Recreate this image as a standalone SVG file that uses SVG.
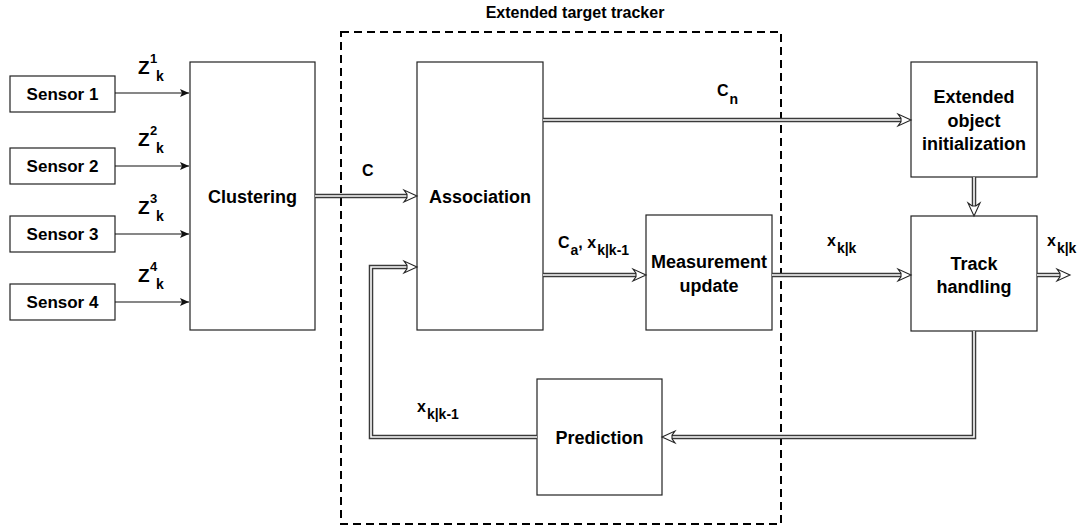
<svg xmlns="http://www.w3.org/2000/svg" width="1089" height="528" viewBox="0 0 1089 528">
<defs>
<style>
.box{fill:#fff;stroke:#222;stroke-width:1.2}
.t{font-family:"Liberation Sans",Arial,sans-serif;font-weight:bold;fill:#000}
.lbl{font-size:18px;text-anchor:middle}
.sen{font-size:17px;text-anchor:middle}
.z{font-size:19px}
.sup{font-size:13px}
.m{font-size:16px}
.sub{font-size:14px}
.dbl-o{fill:none;stroke:#3a3a3a;stroke-width:4.5}
.dbl-i{fill:none;stroke:#fff;stroke-width:1.6}
.thin{fill:none;stroke:#111;stroke-width:1.2}
.head{fill:#fff;stroke:#222;stroke-width:1.1;stroke-linejoin:miter}
</style>
<marker id="a" markerWidth="10" markerHeight="8" refX="9" refY="4" orient="auto" markerUnits="userSpaceOnUse">
<path d="M0,0 L9,4 L0,8 L2,4 Z" fill="#111"/>
</marker>
<polygon id="oh" points="0,0 -13,-6 -10,-1.8 -10,1.8 -13,6"/>
</defs>

<text class="t" x="575" y="18" font-size="16" text-anchor="middle">Extended target tracker</text>
<rect x="341" y="32" width="440" height="492" fill="none" stroke="#000" stroke-width="2" stroke-dasharray="8,5"/>

<g id="sensor1"><rect class="box" x="10" y="76" width="105" height="36"/><text class="t sen" x="62.5" y="100">Sensor 1</text></g>
<g id="sensor2"><rect class="box" x="10" y="148" width="105" height="36"/><text class="t sen" x="62.5" y="172">Sensor 2</text></g>
<g id="sensor3"><rect class="box" x="10" y="216" width="105" height="36"/><text class="t sen" x="62.5" y="240">Sensor 3</text></g>
<g id="sensor4"><rect class="box" x="10" y="284" width="105" height="36"/><text class="t sen" x="62.5" y="308">Sensor 4</text></g>

<g id="clustering"><rect class="box" x="190" y="62" width="125" height="268"/><text class="t lbl" x="252.5" y="203">Clustering</text></g>
<g id="association"><rect class="box" x="417" y="62" width="126" height="268"/><text class="t lbl" x="480" y="203">Association</text></g>
<g id="measurement"><rect class="box" x="646" y="215" width="126" height="115"/><text class="t lbl" x="709" y="268">Measurement</text><text class="t lbl" x="709" y="292">update</text></g>
<g id="initialization"><rect class="box" x="911" y="62" width="126" height="115"/><text class="t lbl" x="974" y="103">Extended</text><text class="t lbl" x="974" y="127">object</text><text class="t lbl" x="974" y="150">initialization</text></g>
<g id="track"><rect class="box" x="911" y="216" width="126" height="115"/><text class="t lbl" x="974" y="270">Track</text><text class="t lbl" x="974" y="293">handling</text></g>
<g id="prediction"><rect class="box" x="537" y="379" width="125" height="116"/><text class="t lbl" x="599.5" y="444">Prediction</text></g>

<g id="connectors">
<line class="thin" x1="115" y1="93" x2="189" y2="93" marker-end="url(#a)"/>
<line class="thin" x1="115" y1="166" x2="189" y2="166" marker-end="url(#a)"/>
<line class="thin" x1="115" y1="234" x2="189" y2="234" marker-end="url(#a)"/>
<line class="thin" x1="115" y1="302" x2="189" y2="302" marker-end="url(#a)"/>

<g>
<path class="dbl-o" d="M315,196 H407"/><path class="dbl-i" d="M315,196 H408"/>
<use href="#oh" class="head" transform="translate(417,196)"/>
</g>
<g>
<path class="dbl-o" d="M543,120 H901"/><path class="dbl-i" d="M543,120 H902"/>
<use href="#oh" class="head" transform="translate(911,120)"/>
</g>
<g>
<path class="dbl-o" d="M543,275 H636"/><path class="dbl-i" d="M543,275 H637"/>
<use href="#oh" class="head" transform="translate(646,275)"/>
</g>
<g>
<path class="dbl-o" d="M772,275 H901"/><path class="dbl-i" d="M772,275 H902"/>
<use href="#oh" class="head" transform="translate(911,275)"/>
</g>
<g>
<path class="dbl-o" d="M1037,275 H1060"/><path class="dbl-i" d="M1037,275 H1061"/>
<use href="#oh" class="head" transform="translate(1070,275)"/>
</g>
<g>
<path class="dbl-o" d="M974,177 V206"/><path class="dbl-i" d="M974,177 V207"/>
<use href="#oh" class="head" transform="translate(974,216) rotate(90)"/>
</g>
<g>
<path class="dbl-o" d="M974,331 V437 H672"/><path class="dbl-i" d="M974,331 V437 H671"/>
<use href="#oh" class="head" transform="translate(662,437) rotate(180)"/>
</g>
<g>
<path class="dbl-o" d="M537,437 H371 V267 H407"/><path class="dbl-i" d="M537,437 H371 V267 H408"/>
<use href="#oh" class="head" transform="translate(417,267)"/>
</g>
</g>

<g id="labels">
<text class="t z" x="138" y="74">Z</text><text class="t sup" x="150" y="63">1</text><text class="t sub" x="156" y="81">k</text>
<text class="t z" x="138" y="146">Z</text><text class="t sup" x="150" y="135">2</text><text class="t sub" x="156" y="153">k</text>
<text class="t z" x="138" y="214">Z</text><text class="t sup" x="150" y="203">3</text><text class="t sub" x="156" y="221">k</text>
<text class="t z" x="138" y="282">Z</text><text class="t sup" x="150" y="271">4</text><text class="t sub" x="156" y="289">k</text>
<text class="t m" x="362" y="176">C</text>
<text class="t m" x="717" y="96">C<tspan class="sub" dx="1" dy="8">n</tspan></text>
<text class="t m" x="558" y="248">C<tspan class="sub" dx="1" dy="7">a</tspan><tspan dy="-7">, x</tspan><tspan class="sub" dx="1" dy="7">k|k-1</tspan></text>
<text class="t m" x="827" y="246">x<tspan class="sub" dx="1" dy="7">k|k</tspan></text>
<text class="t m" x="1047" y="246">x<tspan class="sub" dx="1" dy="7">k|k</tspan></text>
<text class="t m" x="417" y="412">x<tspan class="sub" dx="1" dy="7">k|k-1</tspan></text>
</g>
</svg>
